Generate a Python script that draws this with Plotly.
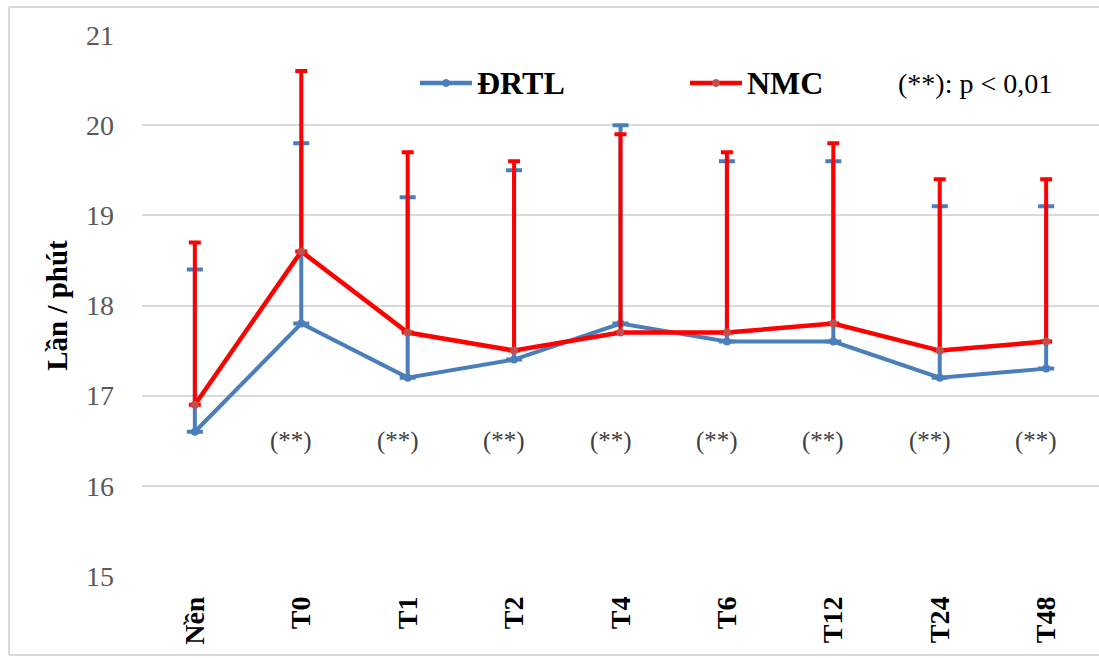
import plotly.graph_objects as go

categories = ["Nền", "T0", "T1", "T2", "T4", "T6", "T12", "T24", "T48"]
drtl_mean = [16.6, 17.8, 17.2, 17.4, 17.8, 17.6, 17.6, 17.2, 17.3]
drtl_upper = [18.4, 19.8, 19.2, 19.5, 20.0, 19.6, 19.6, 19.1, 19.1]
nmc_mean = [16.9, 18.6, 17.7, 17.5, 17.7, 17.7, 17.8, 17.5, 17.6]
nmc_upper = [18.7, 20.6, 19.7, 19.6, 19.9, 19.7, 19.8, 19.4, 19.4]
sig_labels = ["", "(**)", "(**)", "(**)", "(**)", "(**)", "(**)", "(**)", "(**)"]
sig_y = 16.5
y_ticks = [15, 16, 17, 18, 19, 20, 21]
series_names = ["ĐRTL", "NMC"]
note_text = "(**): p < 0,01"

BLUE = "#4a7ebb"
RED = "#ff0000"
RED_MARKER = "#c0504d"
SERIF = "Liberation Serif, Times New Roman, serif"

W, H = 1099, 658
ML, MR, MT, MB = 142, 0, 35, 82
PW, PH = W - ML - MR, H - MT - MB


def px(x):
    return (x - ML) / PW


def py(y):
    return 1 - (y - MT) / PH


drtl_err = [u - m for u, m in zip(drtl_upper, drtl_mean)]
nmc_err = [u - m for u, m in zip(nmc_upper, nmc_mean)]

fig = go.Figure()
fig.add_trace(go.Scatter(
    x=categories, y=drtl_mean, name=series_names[0], mode="lines+markers",
    line=dict(color=BLUE, width=4),
    marker=dict(color=BLUE, size=8, symbol="circle"),
    error_y=dict(type="data", symmetric=False, array=drtl_err,
                 arrayminus=[0] * len(drtl_err), color=BLUE, thickness=4, width=8),
    showlegend=False,
))
fig.add_trace(go.Scatter(
    x=categories, y=nmc_mean, name=series_names[1], mode="lines+markers",
    line=dict(color=RED, width=4.5),
    marker=dict(color=RED_MARKER, size=8, symbol="circle"),
    error_y=dict(type="data", symmetric=False, array=nmc_err,
                 arrayminus=[0] * len(nmc_err), color=RED, thickness=4, width=6),
    showlegend=False,
))

for c, lab in zip(categories, sig_labels):
    if lab:
        fig.add_annotation(x=c, y=sig_y, text=lab, showarrow=False, xshift=-10,
                           font=dict(family=SERIF, size=25, color="#404040"))

# manual legend
for (x0, x1, lc, mc, tx, name) in [(420, 472, BLUE, BLUE, 475, series_names[0]),
                                   (690, 742, RED, RED_MARKER, 745, series_names[1])]:
    fig.add_shape(type="line", xref="paper", yref="paper", x0=px(x0), x1=px(x1),
                  y0=py(83), y1=py(83), line=dict(color=lc, width=4.5))
    xm = (x0 + x1) / 2
    fig.add_shape(type="circle", xref="paper", yref="paper",
                  x0=px(xm - 3.5), x1=px(xm + 3.5), y0=py(86.5), y1=py(79.5),
                  line=dict(color=mc, width=1), fillcolor=mc)
    fig.add_annotation(x=px(tx), y=py(83), xref="paper", yref="paper", text=name,
                       showarrow=False, xanchor="left", yanchor="middle",
                       font=dict(family=SERIF, size=32, color="#000000", weight="bold"))

fig.add_annotation(x=px(1054), y=py(83), xref="paper", yref="paper", text=note_text,
                   showarrow=False, xanchor="right", yanchor="middle",
                   font=dict(family=SERIF, size=28, color="#000000"))

# outer chart border (left, top, bottom edges)
for (a, b, c, d) in [(9, 7, 9, 655), (9, 7, W + 5, 7), (9, 655, W + 5, 655)]:
    fig.add_shape(type="line", xref="paper", yref="paper",
                  x0=px(a), y0=py(b), x1=px(c), y1=py(d),
                  line=dict(color="#d9d9d9", width=2), layer="below")

fig.update_layout(
    width=W, height=H,
    margin=dict(l=ML, r=MR, t=MT, b=MB, autoexpand=False),
    paper_bgcolor="white", plot_bgcolor="white",
    showlegend=False,
    xaxis=dict(
        tickangle=-90,
        tickfont=dict(family=SERIF, size=28, color="#000000", weight="bold"),
        showgrid=False, showline=False, zeroline=False, ticks="",
        ticklabelstandoff=14,
    ),
    yaxis=dict(
        range=[15, 21], tickvals=y_ticks, showgrid=True, gridcolor="#d9d9d9", gridwidth=1.5,
        zeroline=False, showline=False, ticks="",
        ticklabelstandoff=27,
        tickfont=dict(family=SERIF, size=28, color="#595959"),
        title=dict(text="Lần / phút", standoff=9,
                   font=dict(family=SERIF, size=29, color="#000000", weight="bold")),
    ),
)

fig.write_html("out.html", config={"displayModeBar": False},
               post_script="document.body.style.margin='0';document.body.style.overflow='hidden';")
